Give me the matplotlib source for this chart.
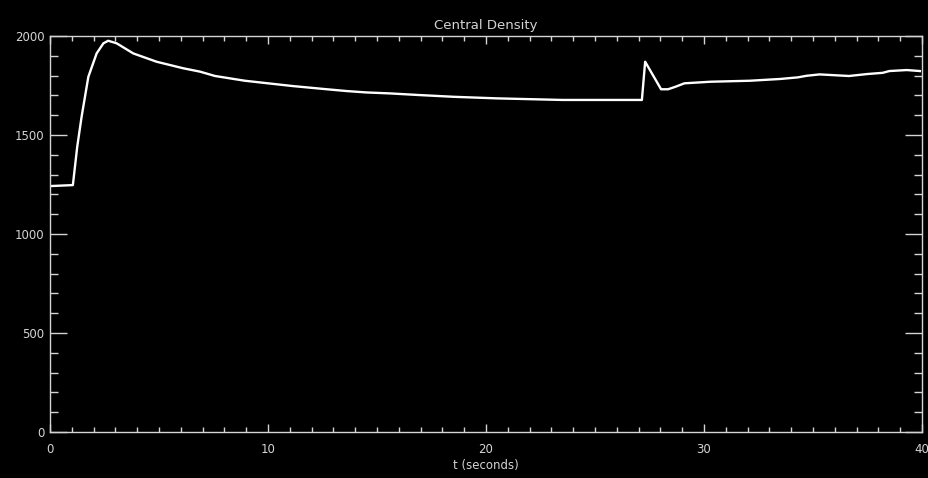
# Central density time trace, IDL-style black plot

import matplotlib
matplotlib.use("Agg")
import matplotlib.pyplot as plt
from matplotlib.ticker import MultipleLocator

# Data
t = [0, 1.05, 1.25, 1.45, 1.76, 2.14, 2.45, 2.67, 3.06, 3.82, 4.89, 6.11,
     6.88, 7.57, 8.94, 10.0, 11.15, 12.7, 13.6, 14.5, 15.6, 16.9, 18.5,
     20.5, 23.5, 27.15, 27.3, 28.03, 28.35, 28.7, 29.1, 30.3, 32.1, 33.5,
     34.3, 34.7, 35.3, 36.65, 37.5, 38.2, 38.5, 39.3, 39.9]
density = [1242, 1247, 1441, 1592, 1794, 1912, 1963, 1976, 1963, 1912, 1870,
           1837, 1820, 1798, 1774, 1761, 1747, 1731, 1722, 1715, 1710, 1702,
           1693, 1685, 1677, 1677, 1870, 1731, 1731, 1744, 1761, 1769, 1774,
           1783, 1791, 1799, 1806, 1798, 1808, 1814, 1823, 1828, 1823]

title = 'Central Density'
xlabel = 't (seconds)'

fg = '#d4d4d4'

fig = plt.figure(figsize=(9.29, 4.78), dpi=100, facecolor='black')
ax = fig.add_axes([0.0538, 0.0962, 0.9387, 0.8285], facecolor='black')

ax.plot(t, density, color='white', lw=1.7)

ax.set_xlim(0, 40)
ax.set_ylim(0, 2000)
ax.xaxis.set_major_locator(MultipleLocator(10))
ax.xaxis.set_minor_locator(MultipleLocator(1))
ax.yaxis.set_major_locator(MultipleLocator(500))
ax.yaxis.set_minor_locator(MultipleLocator(100))

for s in ax.spines.values():
    s.set_color(fg)
    s.set_linewidth(1.0)

ax.tick_params(axis='both', which='both', direction='in', colors=fg,
               top=True, right=True, labelright=False, labeltop=False,
               labelsize=8.5, width=1.0)
ax.tick_params(axis='x', which='major', length=5.8, pad=8)
ax.tick_params(axis='x', which='minor', length=3.6)
ax.tick_params(axis='y', which='major', length=12.2, pad=4)
ax.tick_params(axis='y', which='minor', length=5.8)

ax.set_title(title, color=fg, fontsize=9.5, pad=5)
ax.set_xlabel(xlabel, color=fg, fontsize=8.5, labelpad=2)

plt.savefig('out.png', dpi=100, facecolor='black')
